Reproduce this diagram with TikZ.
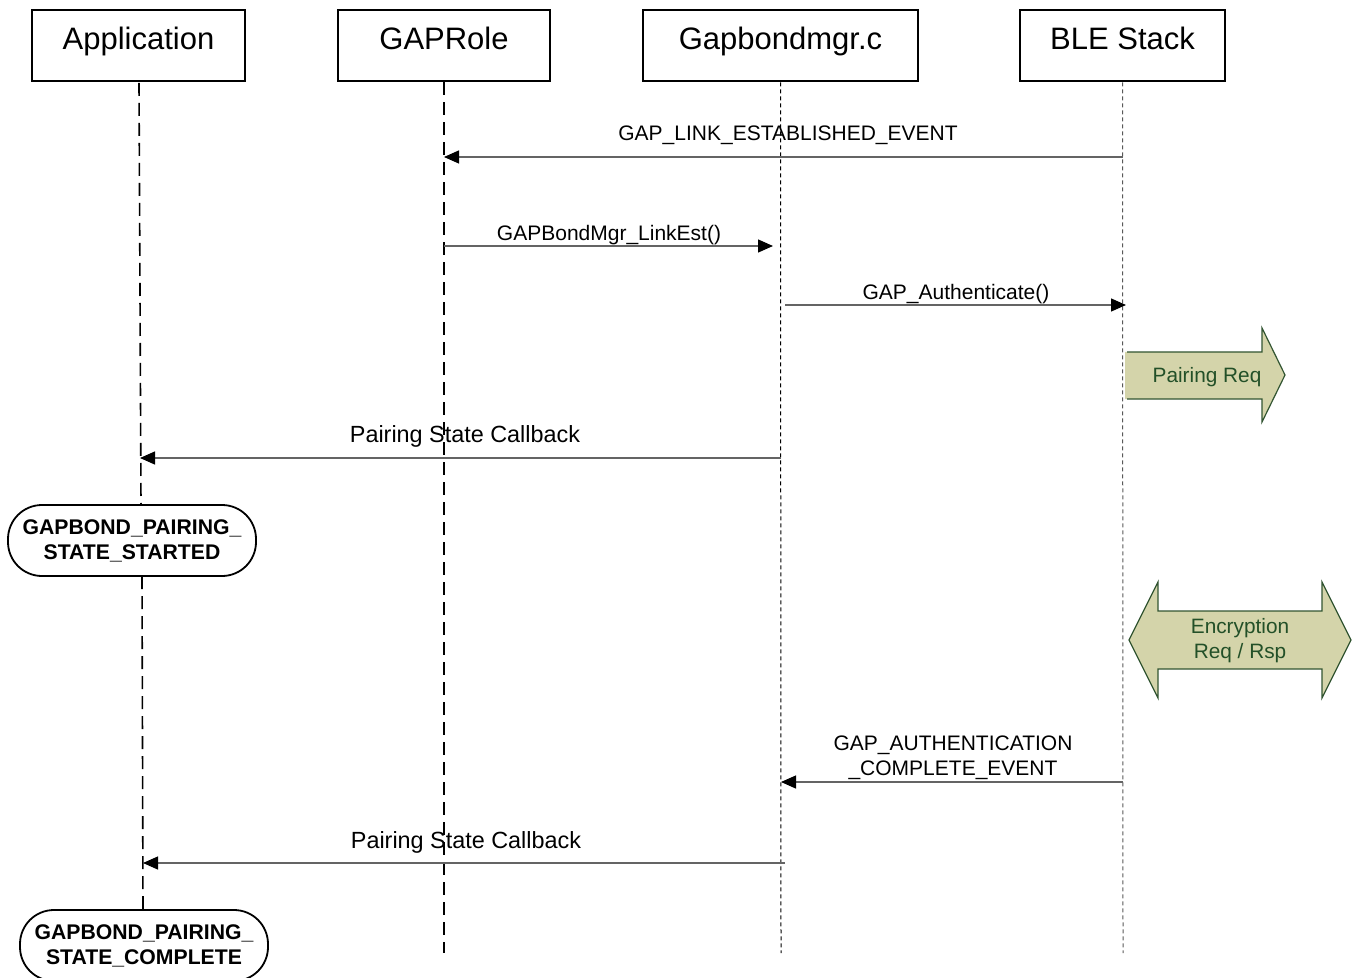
\documentclass[tikz,border=0pt]{standalone}
\usepackage{fontspec}
\setmainfont{Liberation Sans}
\usetikzlibrary{arrows.meta}
\definecolor{msgline}{RGB}{100,100,100}
\definecolor{blockfill}{RGB}{212,212,170}
\definecolor{blockdraw}{RGB}{50,85,50}
\definecolor{blocktext}{RGB}{35,80,40}
\begin{document}
\begin{tikzpicture}[x=0.5pt,y=-0.5pt,
  header/.style={draw,line width=1.4pt,minimum height=35.5pt,inner sep=0pt,
    text height=11.2pt,text depth=6.7pt,
    font=\fontsize{15.5}{18}\selectfont},
  lifelong/.style={line width=0.8pt,dash pattern=on 6.5pt off 3.5pt},
  lifeshort/.style={line width=0.5pt,dash pattern=on 2pt off 1.5pt},
  msg/.style={draw=msgline,line width=0.65pt,-{Triangle[length=7.5pt,width=6.5pt,fill=black,color=black]}},
  lbl/.style={anchor=base,inner sep=0pt,font=\fontsize{10.5}{12.5}\selectfont},
  biglbl/.style={anchor=base,inner sep=0pt,font=\fontsize{11.7}{14}\selectfont},
  statebox/.style={draw,line width=0.9pt,rounded corners=17pt,minimum width=124pt,
    minimum height=35.5pt,inner sep=0pt,align=center,
    font=\fontsize{10.6}{12.5}\selectfont\bfseries},
  blocklbl/.style={text=blocktext,inner sep=0pt,align=center,
    font=\fontsize{10.4}{12.5}\selectfont}]
\useasboundingbox (0,0) rectangle (1353,978);
\clip (0,0) rectangle (1353,978);

% headers
\node[header,minimum width=106.5pt] (app) at (138.5,45.5) {Application};
\node[header,minimum width=106pt] (role) at (444,45.5) {GAPRole};
\node[header,minimum width=137.5pt] (bond) at (780.5,45.5) {Gapbondmgr.c};
\node[header,minimum width=102.5pt] (ble) at (1122.5,45.5) {BLE Stack};

% state boxes
\node[statebox] (st1) at (132,540.5) {GAPBOND\_PAIRING\_\\STATE\_STARTED};
\node[statebox] (st2) at (144,945.5) {GAPBOND\_PAIRING\_\\STATE\_COMPLETE};

% lifelines
\coordinate (a0) at (139,83);
\coordinate (a1) at (141,505);
\coordinate (a2) at (142,576);
\coordinate (a3) at (143,910);
\coordinate (rEnd) at (444,953);
\coordinate (bEnd) at (781,953);
\coordinate (sEnd) at (1123,953);
\draw[lifelong] (a0) -- (a1);
\draw[lifelong] (a2) -- (a3);
\draw[lifelong] (role.south) -- (rEnd);
\draw[lifeshort] (bond.south) -- (bEnd);
\draw[lifeshort,draw=black!65] (ble.south) -- (sEnd);

% message endpoints
\coordinate (m1s) at (1123,157); \coordinate (m1e) at (444,157);
\coordinate (m2s) at (444,246);  \coordinate (m2e) at (773,246);
\coordinate (m3s) at (785,305);  \coordinate (m3e) at (1126,305);
\coordinate (m5s) at (781,458);  \coordinate (m5e) at (140,458);
\coordinate (m8s) at (1123,782); \coordinate (m8e) at (781,782);
\coordinate (m9s) at (785,863);  \coordinate (m9e) at (143,863);

\draw[msg] (m1s) -- (m1e);
\draw[msg] (m2s) -- (m2e);
\draw[msg] (m3s) -- (m3e);
\draw[msg] (m5s) -- (m5e);
\draw[msg] (m8s) -- (m8e);
\draw[msg] (m9s) -- (m9e);

% labels
\node[lbl] (l1) at (788,141) {GAP\_LINK\_ESTABLISHED\_EVENT};
\node[lbl] (l2) at (609,241) {GAPBondMgr\_LinkEst()};
\node[lbl] (l3) at (956,300) {GAP\_Authenticate()};
\node[biglbl] (l5) at (465,442) {Pairing State Callback};
\node[lbl,anchor=center,align=center] (l8) at (953,758) {GAP\_AUTHENTICATION\\\_COMPLETE\_EVENT};
\node[biglbl] (l9) at (466,848) {Pairing State Callback};

% Pairing Req block arrow
\fill[blockfill] (1125,352) -- (1262,352) -- (1262,328) -- (1285,375) -- (1262,422) -- (1262,399) -- (1125,399) -- cycle;
\draw[blockdraw,line width=0.6pt,line join=miter] (1127,352) -- (1262,352) -- (1262,328) -- (1285,375) -- (1262,422) -- (1262,399) -- (1127,399);
\node[blocklbl] (preq) at (1207,377) {Pairing Req};

% Encryption double arrow
\filldraw[fill=blockfill,draw=blockdraw,line width=0.6pt] (1158,611) -- (1322,611) -- (1322,582) -- (1351,640) -- (1322,698) -- (1322,669) -- (1158,669) -- (1158,698) -- (1129,640) -- (1158,582) -- cycle;
\node[blocklbl] (enc) at (1240,641) {Encryption\\Req / Rsp};
\end{tikzpicture}
\end{document}
